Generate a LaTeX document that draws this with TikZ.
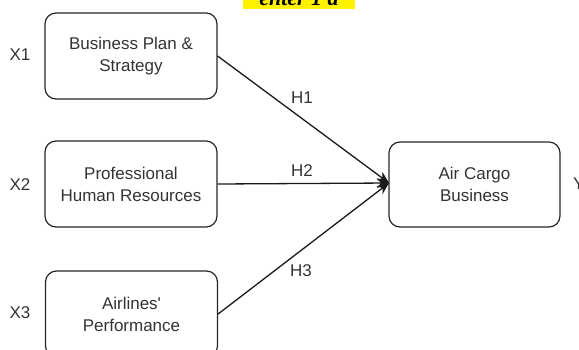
\documentclass[tikz,border=0pt]{standalone}
\usepackage{fontspec}
\setmainfont{Liberation Sans}
\newfontfamily\capfont{Liberation Serif}
\usetikzlibrary{arrows.meta}
\begin{document}
\begin{tikzpicture}[x=1pt,y=-1pt,
  box/.style={draw=black!85, line width=1.2pt, rounded corners=11pt, align=center,
    font=\fontsize{17}{22}\selectfont, text=black!80, inner sep=0pt,
    minimum width=172pt, minimum height=86pt},
  lbl/.style={font=\fontsize{17}{20}\selectfont, text=black!80, inner sep=0pt},
  conn/.style={draw=black!90, line width=1.3pt, -{Stealth[length=12pt,width=10pt]}}]
\useasboundingbox (0,0) rectangle (579,349);
% clipped caption at top
\node[fill=yellow, inner sep=0pt, minimum width=112pt, minimum height=22pt, anchor=south,
  font=\capfont\bfseries\itshape\fontsize{22}{24}\selectfont] (cap) at (299,9.5) {enter 1 a};
\node[box] (b1) at (131,56) {Business Plan \&\\Strategy};
\node[box] (b2) at (131,184) {Professional\\Human Resources};
\node[box] (b3) at (131.5,314) {Airlines\textquotesingle\\Performance};
\node[box, minimum width=171pt, minimum height=85pt] (by) at (474.5,184.5) {Air Cargo\\Business};
\coordinate (tip) at (389,183);
\node[lbl] (x1) at (20,55) {X1};
\node[lbl] (x2) at (20,185) {X2};
\node[lbl] (x3) at (20,313) {X3};
\node[lbl, anchor=west] (y) at (573,184) {Y};
\draw[conn] (b1.east) -- (tip);
\draw[conn] (b2.east) -- (tip);
\draw[conn] (b3.east) -- (tip);
\node[lbl] (h1) at (302,98) {H1};
\node[lbl] (h2) at (302,171) {H2};
\node[lbl] (h3) at (301,271) {H3};
\end{tikzpicture}
\end{document}
